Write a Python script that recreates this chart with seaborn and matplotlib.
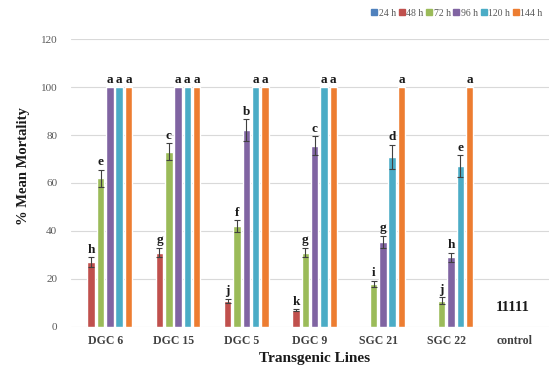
import matplotlib
matplotlib.use("Agg")
import matplotlib.pyplot as plt
from matplotlib.lines import Line2D
import numpy as np
import pandas as pd
import seaborn as sns

# Transgenic lines and exposure times
lines = ["DGC 6", "DGC 15", "DGC 5", "DGC 9", "SGC 21", "SGC 22", "control"]
hours = ["24 h", "48 h", "72 h", "96 h", "120 h", "144 h"]

# % mean mortality per line for each exposure time
mortality_24 = [0, 0, 0, 0, 0, 0, 0]
mortality_48 = [27, 31, 11, 7, 0, 0, 0]
mortality_72 = [62, 73, 42, 31, 18, 11, 0]
mortality_96 = [100, 100, 82, 75.5, 35.5, 29, 0]
mortality_120 = [100, 100, 100, 100, 71, 67, 0]
mortality_144 = [100, 100, 100, 100, 100, 100, 0]

# standard errors
error_24 = [0, 0, 0, 0, 0, 0, 0]
error_48 = [2, 2, 0.8, 0.4, 0, 0, 0]
error_72 = [3.5, 3.5, 2.5, 2, 1.3, 1.3, 0]
error_96 = [0, 0, 4.5, 4, 2.5, 2, 0]
error_120 = [0, 0, 0, 0, 5, 4.5, 0]
error_144 = [0, 0, 0, 0, 0, 0, 0]

# significance letters
letters_24 = ["", "", "", "", "", "", ""]
letters_48 = ["h", "g", "j", "k", "", "", ""]
letters_72 = ["e", "c", "f", "g", "i", "j", ""]
letters_96 = ["a", "a", "b", "c", "g", "h", ""]
letters_120 = ["a", "a", "a", "a", "d", "e", ""]
letters_144 = ["a", "a", "a", "a", "a", "a", ""]
control_label = "11111"

colors = ["#4F81BD", "#C0504D", "#9BBB59", "#8064A2", "#4BACC6", "#ED7D31"]

values = [mortality_24, mortality_48, mortality_72, mortality_96, mortality_120, mortality_144]
errors = [error_24, error_48, error_72, error_96, error_120, error_144]
letters = [letters_24, letters_48, letters_72, letters_96, letters_120, letters_144]

df = pd.DataFrame({
    "line": np.tile(lines, len(hours)),
    "hour": np.repeat(hours, len(lines)),
    "mortality": np.concatenate(values),
})

sns.set_theme(style="white")
plt.rcParams["font.family"] = ["Liberation Serif", "DejaVu Serif"]

fig = plt.figure(figsize=(5.51, 3.66), dpi=100)
ax = fig.add_axes([0.129, 0.1066, 0.867, 0.7868])

sns.barplot(data=df, x="line", y="mortality", hue="hour", order=lines,
            hue_order=hours, palette=colors, width=0.82, gap=0.2,
            errorbar=None, saturation=1, legend=False, ax=ax, zorder=3)

for container, vals, errs, labs in zip(ax.containers, values, errors, letters):
    for patch, v, e, lab in zip(container.patches, vals, errs, labs):
        xc = patch.get_x() + patch.get_width() / 2
        if e > 0:
            ax.errorbar(xc, v, yerr=e, fmt="none", ecolor="#404040",
                        elinewidth=0.8, capsize=2, capthick=0.8, zorder=4)
        if lab:
            ax.text(xc, v + e + 1.8, lab, ha="center", va="baseline",
                    fontsize=9.5, fontweight="bold", color="#1a1a1a")

ax.text(lines.index("control") - 0.03, 8, control_label, ha="center", va="center",
        fontsize=10.5, fontweight="bold", color="#1a1a1a")

ax.set_ylim(0, 120)
ax.set_xlim(-0.5, len(lines) - 0.5)
ax.set_yticks(np.arange(0, 121, 20))
ax.yaxis.grid(True, color="#d9d9d9", linewidth=0.8, zorder=0)
ax.set_axisbelow(True)
sns.despine(ax=ax, left=True, bottom=True)
ax.tick_params(axis="y", length=0, labelsize=8, labelcolor="#595959", pad=10)
ax.tick_params(axis="x", length=0, labelsize=8.5, labelcolor="#404040", pad=6)
for t in ax.get_xticklabels():
    t.set_fontweight("bold")

ax.set_ylabel("% Mean Mortality", fontsize=10.5, fontweight="bold", color="#1a1a1a")
ax.yaxis.set_label_coords(-0.086, 0.56)
ax.set_xlabel("Transgenic Lines", fontsize=11, fontweight="bold", color="#1a1a1a")
ax.xaxis.set_label_coords(0.51, -0.088)

handles = [Line2D([0], [0], marker="s", linestyle="none", markersize=4,
                  markerfacecolor=c, markeredgecolor=c) for c in colors]
fig.legend(handles, hours, ncol=6, loc="upper right", bbox_to_anchor=(1.0, 1.0),
           frameon=False, fontsize=7, handlelength=0.5, handletextpad=0.2,
           columnspacing=0.35, labelcolor="#595959", borderaxespad=0.5)

fig.savefig("out.png", dpi=100)
